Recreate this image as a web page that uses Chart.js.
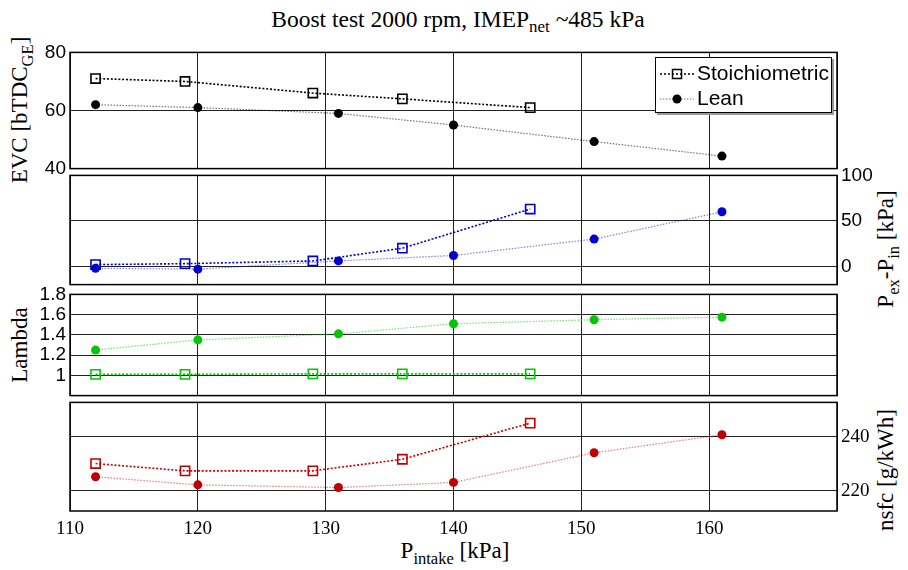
<!DOCTYPE html>
<html>
<head>
<meta charset="utf-8">
<script src="https://cdn.jsdelivr.net/npm/chart.js@4"></script>
<style>
body { margin: 0; background: #fff; width: 908px; height: 570px; position: relative; overflow: hidden; }
canvas { position: absolute; left: 0; }
.lab { position: absolute; font-family: "Liberation Serif", "Times New Roman", serif; font-size: 23px; color: #000; white-space: nowrap; }
.rot { transform: translate(-50%, -50%) rotate(-90deg); }
.lab sub { font-size: 0.72em; vertical-align: -0.35em; line-height: 0; }
#legend { position: absolute; left: 655px; top: 57px; width: 175px; height: 54px; border: 1px solid #000; background: #fff;
  box-shadow: 2px 2px 0 #999; font-family: "Liberation Sans", Arial, sans-serif; font-size: 21px; }
#legend .row { position: absolute; left: 4px; height: 24px; line-height: 24px; }
#legend svg { vertical-align: middle; margin-right: 3px; }
</style>
</head>
<body>
<div class="lab" style="left:458px; top:19px; font-size:23.5px; transform: translate(-50%,-50%);">Boost test 2000 rpm, IMEP<sub>net</sub> ~485 kPa</div>
<div class="lab rot" style="left:20px; top:110px;">EVC [bTDC<sub>GE</sub>]</div>
<div class="lab rot" style="left:20px; top:345px;">Lambda</div>
<div class="lab rot" style="left:886px; top:249px;">P<sub>ex</sub>-P<sub>in</sub> [kPa]</div>
<div class="lab rot" style="left:886px; top:470px;">nsfc [g/kWh]</div>
<div class="lab" style="left:455px; top:551px; transform: translate(-50%,-50%);">P<sub>intake</sub> [kPa]</div>

<canvas id="c1" width="908" height="147" style="top:37px"></canvas>
<canvas id="c2" width="908" height="140" style="top:160px"></canvas>
<canvas id="c3" width="908" height="132" style="top:279px"></canvas>
<canvas id="c4" width="908" height="164" style="top:387px"></canvas>

<div id="legend">
  <div class="row" style="top:3px">
    <svg width="34" height="14"><line x1="0" y1="7" x2="34" y2="7" stroke="#000" stroke-width="1.5" stroke-dasharray="2,2"/><rect x="12.5" y="2.5" width="9" height="9" fill="none" stroke="#000" stroke-width="1.5"/></svg>Stoichiometric
  </div>
  <div class="row" style="top:28px">
    <svg width="34" height="14"><line x1="0" y1="7" x2="34" y2="7" stroke="rgba(0,0,0,0.55)" stroke-width="1.2" stroke-dasharray="1.5,1.5"/><circle cx="17" cy="7" r="4.5" fill="#000"/></svg>Lean
  </div>
</div>

<script>
const xStoich = [112, 119, 129, 136, 146];
const xLean = [112, 120, 131, 140, 151, 161];

const evcStoich = [71, 70, 66, 64, 61];
const evcLean = [62, 61, 59, 55, 49.3, 44.3];
const dpStoich = [2, 3, 6, 20, 63];
const dpLean = [-2, -3, 6, 12, 30, 60];
const lambdaStoich = [1.01, 1.01, 1.015, 1.015, 1.015];
const lambdaLean = [1.25, 1.35, 1.41, 1.51, 1.55, 1.575];
const nsfcStoich = [230, 227.3, 227.3, 231.6, 245];
const nsfcLean = [225.1, 222.1, 221.1, 223, 234, 240.7];

const xTicks = [110, 120, 130, 140, 150, 160, 170];
const evcTicks = [40, 60, 80];
const dpTicks = [0, 50, 100];
const lambdaTicks = [1, 1.2, 1.4, 1.6, 1.8];
const nsfcTicks = [220, 240];

const sansFont = { family: 'Liberation Sans', size: 19 };
const serifFont = { family: 'Liberation Serif', size: 19 };

function pts(xs, ys) {
  return xs.map((x, i) => ({ x: x, y: ys[i] }));
}

// frame round each panel
const boxPlugin = {
  id: 'box',
  afterDraw(chart) {
    const a = chart.chartArea, c = chart.ctx;
    c.save();
    c.strokeStyle = '#000';
    c.lineWidth = 1.5;
    c.strokeRect(a.left, a.top, a.right - a.left, a.bottom - a.top);
    c.restore();
  }
};

function panel(id, col, leanCol, sData, lData, yMin, yMax, yTicks, side, tickFont, showX) {
  const other = side === 'left' ? 'right' : 'left';
  new Chart(document.getElementById(id), {
    type: 'line',
    data: {
      datasets: [
        {
          data: sData, borderColor: col, borderWidth: 1.6, borderDash: [2, 1.8],
          pointStyle: 'rect', pointRadius: 6.5, pointBorderColor: col, pointBorderWidth: 1.6,
          pointBackgroundColor: 'rgba(0,0,0,0)', fill: false, tension: 0
        },
        {
          data: lData, borderColor: leanCol, borderWidth: 1.2, borderDash: [1.5, 1.5],
          pointStyle: 'circle', pointRadius: 4.5, pointBorderWidth: 0,
          pointBackgroundColor: col, pointBorderColor: col, fill: false, tension: 0
        }
      ]
    },
    options: {
      responsive: false,
      animation: false,
      layout: { padding: { top: 14, bottom: showX ? 0 : 14, left: 0, right: 0 } },
      plugins: { legend: { display: false }, tooltip: { enabled: false } },
      scales: {
        x: {
          type: 'linear', min: 110, max: 170,
          afterBuildTicks: s => { s.ticks = xTicks.map(v => ({ value: v })); },
          afterFit: s => { s.height = showX ? 40 : 0; },
          grid: { color: '#222', lineWidth: 1, drawTicks: false },
          border: { display: false },
          ticks: {
            display: showX, padding: 7, autoSkip: false, maxRotation: 0, color: '#000', font: serifFont,
            callback: v => (v < 170 ? String(v) : '')
          }
        },
        y: {
          type: 'linear', position: side, min: yMin, max: yMax,
          afterBuildTicks: s => { s.ticks = yTicks.map(v => ({ value: v })); },
          afterFit: s => { s.width = side === 'left' ? 70 : 71; },
          grid: { color: '#222', lineWidth: 1, drawTicks: false },
          border: { display: false },
          ticks: { padding: 4, color: '#000', font: tickFont, callback: v => String(v) }
        },
        y2: {
          type: 'linear', position: other, display: true,
          afterFit: s => { s.width = other === 'left' ? 70 : 71; },
          grid: { display: false }, border: { display: false }, ticks: { display: false }
        }
      }
    },
    plugins: [boxPlugin]
  });
}

panel('c1', '#000000', 'rgba(0,0,0,0.55)', pts(xStoich, evcStoich), pts(xLean, evcLean),
  40, 80, evcTicks, 'left', sansFont, false);
panel('c2', '#0000d0', 'rgba(0,0,208,0.5)', pts(xStoich, dpStoich), pts(xLean, dpLean),
  -20, 100, dpTicks, 'right', sansFont, false);
panel('c3', '#00c800', 'rgba(0,200,0,0.55)', pts(xStoich, lambdaStoich), pts(xLean, lambdaLean),
  0.8, 1.8, lambdaTicks, 'left', sansFont, false);
panel('c4', '#c00000', 'rgba(192,0,0,0.5)', pts(xStoich, nsfcStoich), pts(xLean, nsfcLean),
  212.4, 252.7, nsfcTicks, 'right', serifFont, true);
</script>
</body>
</html>
